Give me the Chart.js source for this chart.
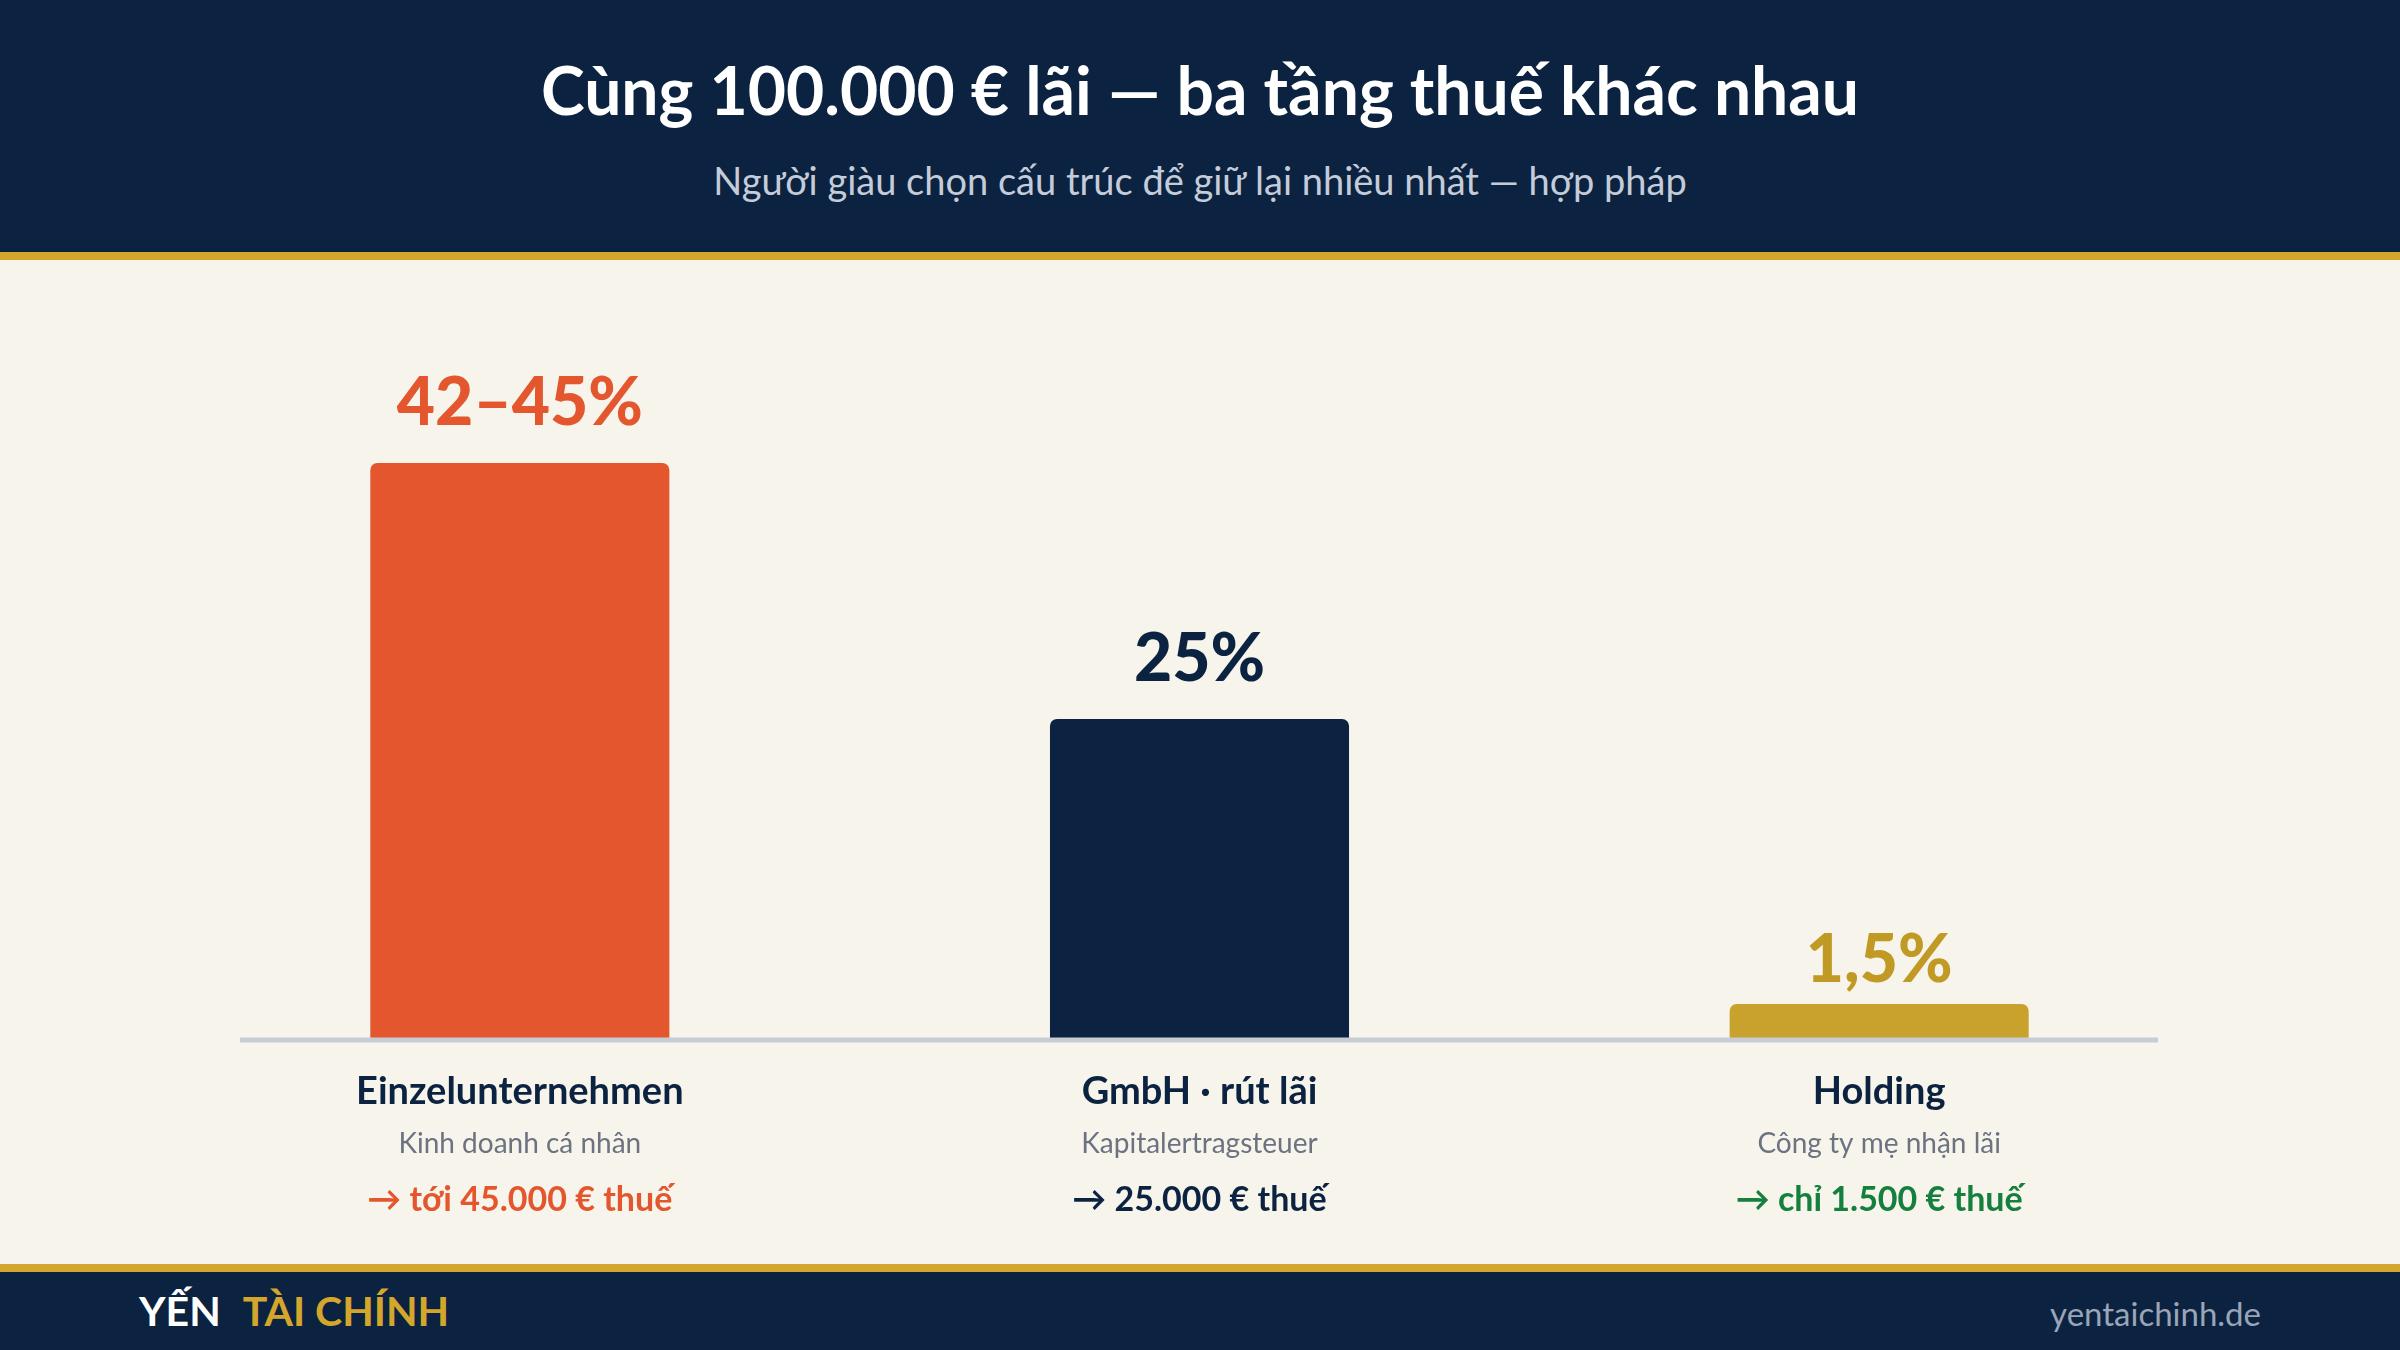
<!DOCTYPE html>
<html><head><meta charset="utf-8">
<script src="https://cdn.jsdelivr.net/npm/chart.js@4/dist/chart.umd.min.js"></script>
<style>
html,body{margin:0;padding:0;width:2400px;height:1350px;overflow:hidden;background:#F7F4EC;font-family:Lato,"Noto Sans",sans-serif;}
#hdr{position:absolute;left:0;top:0;width:2400px;height:252px;background:#0B2340;border-bottom:8px solid #D4A72C;}
#title{position:absolute;top:50px;width:100%;text-align:center;color:#fff;font-weight:700;font-size:66px;}
#sub{position:absolute;top:157px;width:100%;text-align:center;color:#C5CCD9;font-size:38px;}
#ftr{position:absolute;left:0;top:1264px;width:2400px;height:78px;background:#0B2340;border-top:8px solid #D4A72C;}
#brand{position:absolute;left:139px;top:14px;font-weight:700;font-size:41px;color:#fff;}
#brand span{color:#D4A72C;margin-left:22px;}
#site{position:absolute;right:139px;top:21px;font-size:33px;color:#9AA5B8;}
#c{position:absolute;left:0;top:260px;}
</style></head><body>
<div id="hdr"><div id="title">Cùng 100.000 € lãi — ba tầng thuế khác nhau</div>
<div id="sub">Người giàu chọn cấu trúc để giữ lại nhiều nhất — hợp pháp</div></div>
<canvas id="c" width="2400" height="1004"></canvas>
<div id="ftr"><div id="brand">YẾN<span>TÀI CHÍNH</span></div><div id="site">yentaichinh.de</div></div>
<script>
const categories=["Einzelunternehmen","GmbH · rút lãi","Holding"];
const subLabels=["Kinh doanh cá nhân","Kapitalertragsteuer","Công ty mẹ nhận lãi"];
const taxLabels=["→ tới 45.000 € thuế","→ 25.000 € thuế","→ chỉ 1.500 € thuế"];
const valueLabels=["42–45%","25%","1,5%"];
const taxRates=[45,25,1.5];
const barColors=["#E4572E","#0B2340","#C9A22E"];
const labelColors=["#E4572E","#0B2340","#C09A24"];
const taxColors=["#E4572E","#0B2340","#15803D"];
const F='Lato,"Noto Sans",sans-serif';
const labels={id:'labels',afterDatasetsDraw(ch){
 const ctx=ch.ctx,meta=ch.getDatasetMeta(0),bottom=ch.chartArea.bottom,ys=ch.scales.y;
 ctx.save();
 ctx.strokeStyle='#C8CCD4';ctx.lineWidth=5;
 ctx.beginPath();ctx.moveTo(240,bottom+1);ctx.lineTo(2158,bottom+1);ctx.stroke();
 ctx.textAlign='center';ctx.textBaseline='alphabetic';
 meta.data.forEach((b,i)=>{
  ctx.fillStyle=labelColors[i];ctx.font='900 66px '+F;
  ctx.fillText(valueLabels[i],b.x,ys.getPixelForValue(taxRates[i])-38);
  ctx.fillStyle='#0B2340';ctx.font='700 38px '+F;
  ctx.fillText(categories[i],b.x,bottom+65);
  ctx.fillStyle='#6B7280';ctx.font='28px '+F;
  ctx.fillText(subLabels[i],b.x,bottom+114);
  ctx.fillStyle=taxColors[i];ctx.font='700 34px '+F;
  ctx.fillText(taxLabels[i],b.x,bottom+172);
 });
 ctx.restore();}};
new Chart(document.getElementById('c'),{type:'bar',
 data:{labels:categories,datasets:[{data:taxRates,backgroundColor:barColors,borderRadius:7,borderSkipped:'bottom',barPercentage:0.44,categoryPercentage:1,minBarLength:35}]},
 options:{responsive:false,animation:false,
  layout:{padding:{left:180,right:181,top:139,bottom:225}},
  plugins:{legend:{display:false},tooltip:{enabled:false}},
  scales:{x:{display:false},y:{display:false,min:0,max:50}}},
 plugins:[labels]});
</script></body></html>
